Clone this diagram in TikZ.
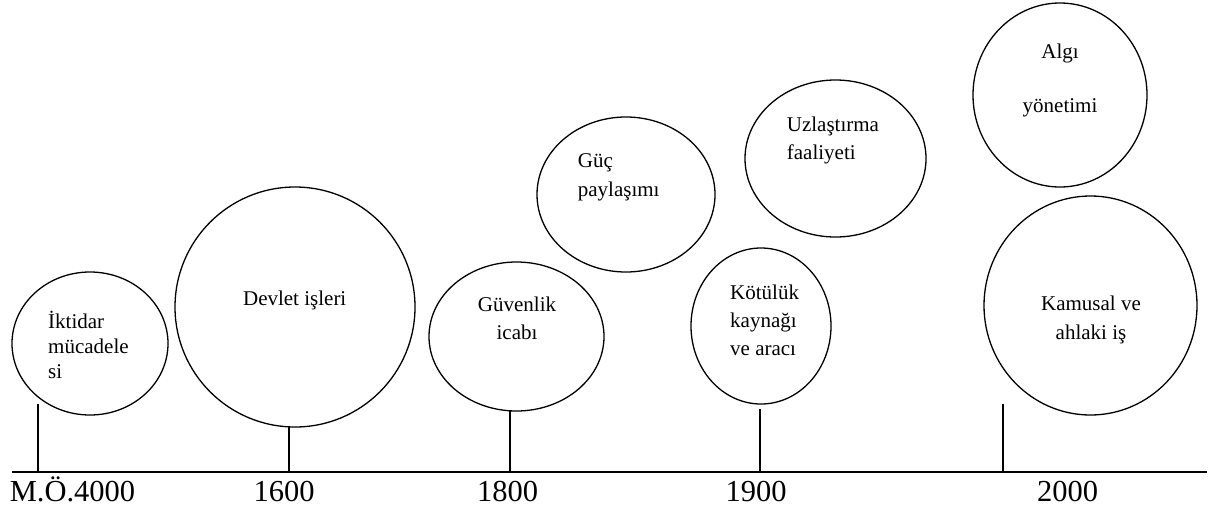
\documentclass[tikz,border=0pt]{standalone}
\usepackage{fontspec}
\setmainfont{Liberation Serif}
\usetikzlibrary{shapes.geometric}
\newcommand\LftLines[2]{\vtop{\baselineskip=#1\relax\lineskiplimit=-100pt\halign{##\hfil\cr#2\crcr}}}
\newcommand\CtrLines[2]{\vtop{\baselineskip=#1\relax\lineskiplimit=-100pt\halign{\hfil##\hfil\cr#2\crcr}}}
\begin{document}
\begin{tikzpicture}[x=1pt,y=-1pt,
  bubble/.style={draw=black, line width=1.3pt, ellipse, inner sep=0pt},
  lbl/.style={inner sep=0pt, font=\fontsize{21}{25}\selectfont},
  yr/.style={inner sep=0pt, anchor=base, font=\fontsize{30.5}{36}\selectfont},
  tick/.style={draw=black, line width=1.5pt},
  axis/.style={draw=black, line width=2pt}]
\useasboundingbox (0,0) rectangle (1215,512);
% circles
\node[bubble, minimum width=156pt, minimum height=143pt] (c1) at (90,343.5) {};
\node[bubble, minimum width=240pt, minimum height=240pt] (c2) at (295,307) {};
\node[bubble, minimum width=175pt, minimum height=149pt] (c3) at (516.5,336.5) {};
\node[bubble, minimum width=178pt, minimum height=155pt] (c4) at (626,194.5) {};
\node[bubble, minimum width=140pt, minimum height=156pt] (c5) at (761,326) {};
\node[bubble, minimum width=181pt, minimum height=157pt] (c6) at (835.5,158.5) {};
\node[bubble, minimum width=174pt, minimum height=184pt] (c7) at (1060,95) {};
\node[bubble, minimum width=213pt, minimum height=219pt] (c8) at (1090.5,305.5) {};
% texts
\node[lbl, anchor=base west] (t1) at (48,328) {\LftLines{25pt}{İktidar\cr mücadele\cr si}};
\node[lbl, anchor=base] (t2) at (294.7,305) {Devlet işleri};
\node[lbl, anchor=base] (t3) at (517,311.7) {\CtrLines{27.6pt}{Güvenlik\cr icabı}};
\node[lbl, anchor=base west] (t4) at (577.7,167.3) {\LftLines{29pt}{Güç\cr paylaşımı}};
\node[lbl, anchor=base west] (t5) at (730,299.3) {\LftLines{28pt}{Kötülük\cr kaynağı\cr ve aracı}};
\node[lbl, anchor=base west] (t6) at (786.7,131.7) {\LftLines{27.6pt}{Uzlaştırma\cr faaliyeti}};
\node[lbl, anchor=base] (t7) at (1060,58.3) {\CtrLines{54.4pt}{Algı\cr yönetimi}};
\node[lbl, anchor=base] (t8) at (1091,310.7) {\CtrLines{28.6pt}{Kamusal ve\cr ahlaki iş}};
% axis
\coordinate (axL) at (12,472);
\coordinate (axR) at (1207,472);
\draw[axis] (axL) -- (axR);
% ticks
\coordinate (k0) at (38,404);
\coordinate (k1) at (289,426.5);
\coordinate (k2) at (510,410);
\coordinate (k4) at (760,409);
\coordinate (k5) at (1003,404);
\draw[tick] (k0) -- (k0 |- axL);
\draw[tick] (k1) -- (k1 |- axL);
\draw[tick] (k2) -- (k2 |- axL);
\draw[tick] (k4) -- (k4 |- axL);
\draw[tick] (k5) -- (k5 |- axL);
% years
\node[yr] (y0) at (72.5,501.7) {M.Ö.4000};
\node[yr] (y1) at (284,501.7) {1600};
\node[yr] (y2) at (507.5,501.7) {1800};
\node[yr] (y3) at (756,501.7) {1900};
\node[yr] (y4) at (1067.5,501.7) {2000};
\end{tikzpicture}
\end{document}
